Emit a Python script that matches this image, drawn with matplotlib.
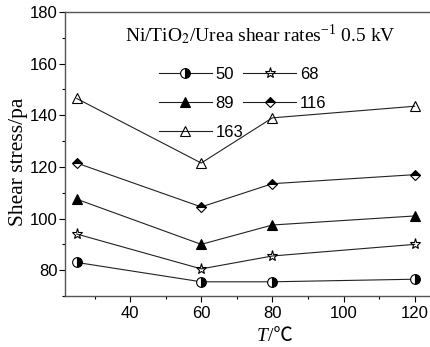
import numpy as np
import matplotlib.pyplot as plt
from matplotlib.ticker import MultipleLocator

plt.rcParams["mathtext.fontset"] = "stix"

# temperatures (C)
temp = [25, 60, 80, 120]

# shear stress (pa) for each shear rate
s50 = [83, 75.5, 75.5, 76.5]
s68 = [94, 80.5, 85.5, 90]
s89 = [107.5, 90, 97.5, 101]
s116 = [121.5, 104.5, 113.5, 117]
s163 = [146.5, 121.5, 139, 143.5]

labels = ["50", "68", "89", "116", "163"]

fig = plt.figure(figsize=(4.31, 3.47), dpi=100)
ax = fig.add_axes([65/431, 51/347, 371/431, 284/347])

series = [s50, s68, s89, s116, s163]
markers = ["o", "*", "^", "D", "^"]
fills = ["right", "none", "full", "top", "none"]
sizes = [7, 8, 7, 5.5, 7]

handles = []
for ys, lab, m, fs, ms in zip(series, labels, markers, fills, sizes):
    h, = ax.plot(temp, ys, color="#222222", lw=0.8, marker=m, ms=ms,
                 fillstyle=fs, markerfacecolor="black",
                 markerfacecoloralt="white", markeredgecolor="black",
                 markeredgewidth=0.8, label=lab)
    handles.append(h)

ax.set_xlim(21.7, 126)
ax.set_ylim(70, 180)
ax.xaxis.set_minor_locator(MultipleLocator(10))
ax.yaxis.set_minor_locator(MultipleLocator(10))
ax.set_xticks([40, 60, 80, 100, 120])
ax.set_yticks([80, 100, 120, 140, 160, 180])
ax.tick_params(which="both", direction="out", labelsize=12, width=0.8)
ax.tick_params(which="major", length=4)
ax.tick_params(which="minor", length=2.5)
ax.tick_params(axis="y", pad=1.5)
for t in ax.get_xticklabels() + ax.get_yticklabels():
    t.set_fontfamily("Liberation Sans")
for sp in ax.spines.values():
    sp.set_color("#555555")
    sp.set_linewidth(1.0)

serif = ["Liberation Serif", "Noto Sans CJK SC", "DejaVu Serif"]
# x label: italic T followed by /℃
xl_y = (296 - 341) / 284
ax.text((268 - 65) / 371, xl_y, "T", style="italic", family=serif,
        fontsize=14, ha="right", va="baseline", transform=ax.transAxes)
ax.text((268 - 65) / 371, xl_y, "/\u2103", family=serif,
        fontsize=14, ha="left", va="baseline", transform=ax.transAxes)
ax.set_ylabel("Shear stress/pa", family=serif, fontsize=15.5)
ax.yaxis.set_label_coords(-0.1, (296 - 162) / 284)

ax.text((125-65)/371, (296-41)/284,
        "Ni/TiO$_2$/Urea shear rates$^{\\mathregular{-1}}$ 0.5 kV",
        transform=ax.transAxes, fontsize=14, family=serif, va="baseline")

order = [0, 2, 4, 1, 3]
ax.legend([handles[i] for i in order], [labels[i] for i in order],
          ncol=2, frameon=False, loc="upper left",
          bbox_to_anchor=((152-65)/371, (296-60)/284),
          handlelength=3.2, handletextpad=0.2, columnspacing=0.0,
          labelspacing=0.85, borderaxespad=0,
          prop={"family": "Liberation Sans", "size": 12})

fig.savefig("out.png", dpi=100)
